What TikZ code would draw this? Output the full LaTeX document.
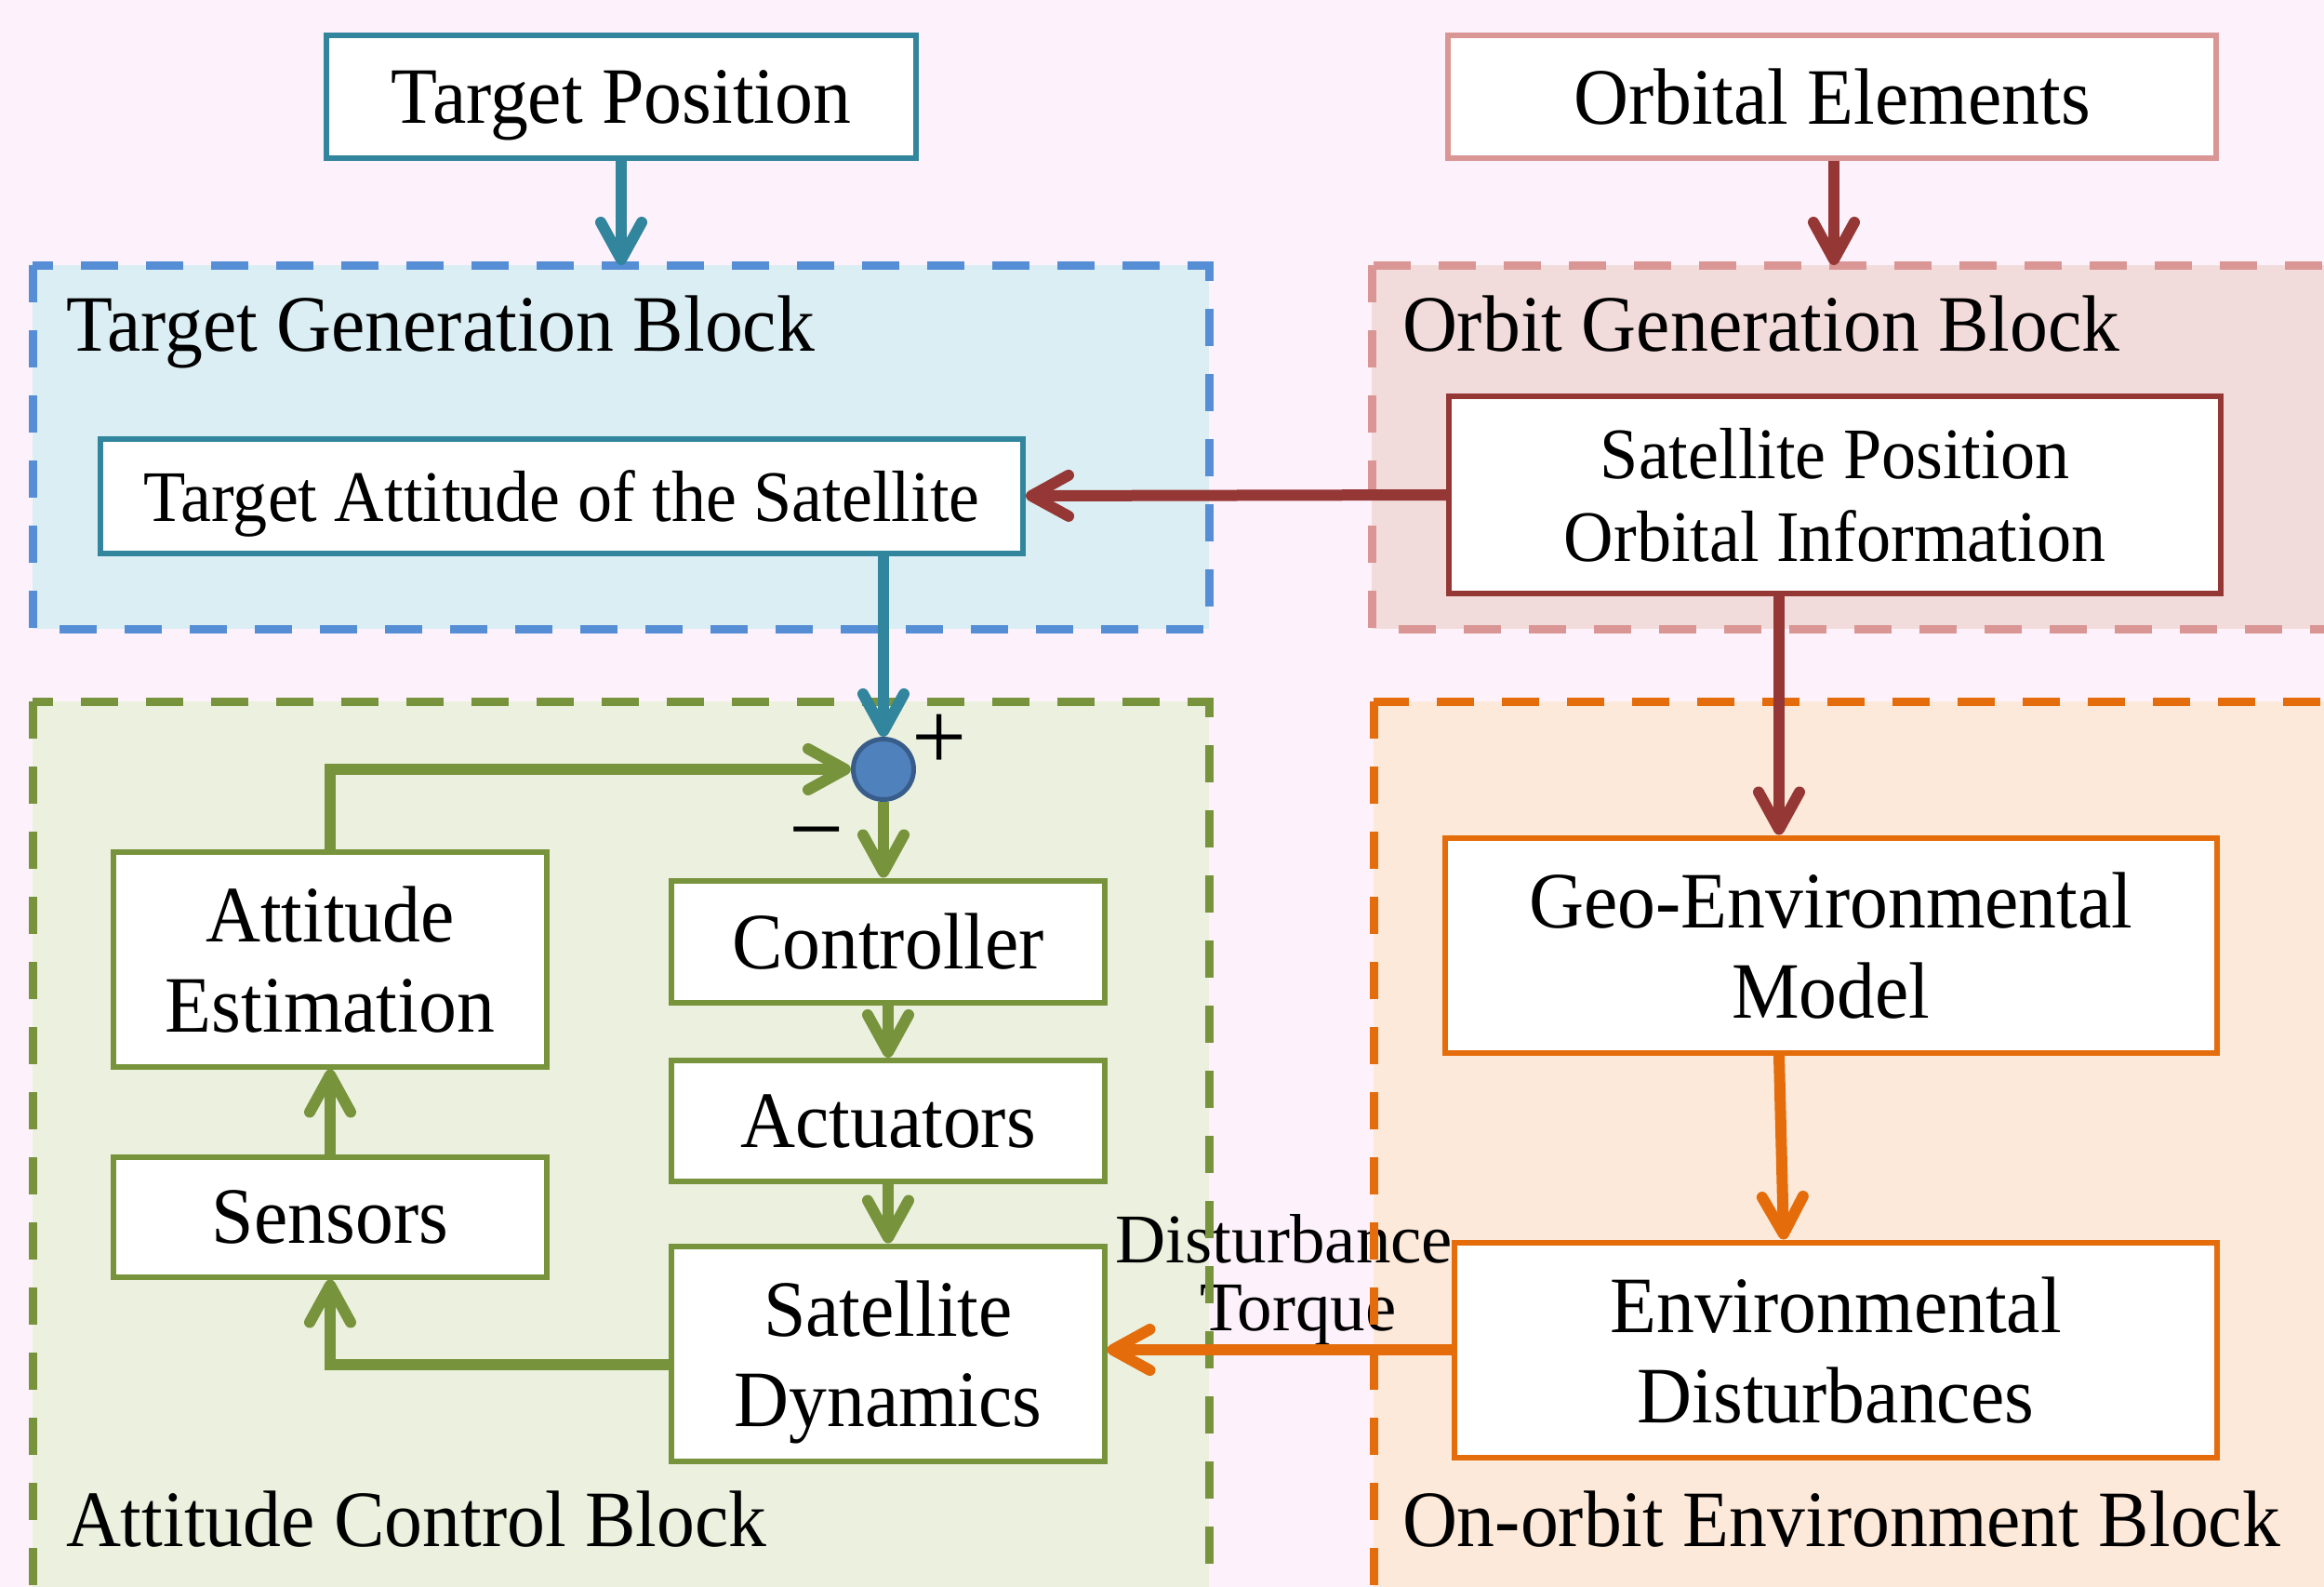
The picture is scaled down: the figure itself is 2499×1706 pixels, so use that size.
\documentclass[tikz,border=0pt]{standalone}
\usepackage{fontspec}
\setmainfont{Liberation Serif}[FakeStretch=0.95]
\newfontfamily\plainserif{Liberation Serif}
\usetikzlibrary{arrows.meta}
\definecolor{bgpink}{HTML}{FDF1FB}
\definecolor{tealc}{HTML}{31859C}
\definecolor{tgbline}{HTML}{558ED5}
\definecolor{tgbfill}{HTML}{DBEEF4}
\definecolor{pinkline}{HTML}{D99694}
\definecolor{ogbfill}{HTML}{F2DCDB}
\definecolor{darkredc}{HTML}{953735}
\definecolor{ogreen}{HTML}{77933C}
\definecolor{acbfill}{HTML}{EBF1DE}
\definecolor{oorange}{HTML}{E46C0A}
\definecolor{oebfill}{HTML}{FDE9D9}
\definecolor{sumfill}{HTML}{4F81BD}
\definecolor{sumline}{HTML}{385D8A}
\tikzset{
  boxbase/.style={draw, fill=white, line width=1.2pt, inner sep=0pt, align=center,
    text depth=0pt, font=\fontsize{17.2}{19.4}\selectfont},
  smalltext/.style={font=\fontsize{15.6}{17.8}\selectfont},
  arr/.style={line width=2.4pt, -{Straight Barb[length=8pt,width=8.8pt,round]}},
  blk/.style={line width=1.8pt, dash pattern=on 8pt off 6pt},
  blklabel/.style={anchor=base west, inner sep=0pt, font=\fontsize{17.2}{20}\selectfont},
  signlabel/.style={inner sep=0pt, font=\plainserif\fontsize{21}{21}\selectfont},
}
\begin{document}
\begin{tikzpicture}[x=0.2pt,y=-0.2pt]
\useasboundingbox (0,0) rectangle (2499,1706);
\clip (0,0) rectangle (2499,1706);
\fill[bgpink] (0,0) rectangle (2499,1706);
% block fills
\fill[tgbfill] (35,285) rectangle (1300,676);
\fill[ogbfill] (1475,285) rectangle (2540,676);
\fill[acbfill] (35,754) rectangle (1300,1740);
\fill[oebfill] (1477,754) rectangle (2540,1740);
% disturbance label (under the dashed borders, as in the reference)
\node[inner sep=0pt, align=center, font=\plainserif\fontsize{15}{14.6}\selectfont] (dlabel) at (1381,1376) {Disturbance\\\hspace*{6pt}Torque};
% block borders
\draw[blk, tgbline] (35,285) rectangle (1300,676);
\draw[blk, pinkline] (1475,285) rectangle (2540,676);
\draw[blk, ogreen] (35,754) rectangle (1300,1740);
\draw[blk, oorange] (1477,754) rectangle (2540,1740);
% block labels
\node[blklabel] (tgblabel) at (70,378) {Target Generation Block};
\node[blklabel] (ogblabel) at (1507,377) {Orbit Generation Block};
\node[blklabel] (acblabel) at (70,1662) {Attitude Control Block};
\node[blklabel] (oeblabel) at (1507,1662) {On-orbit Environment Block};
% boxes
\node[boxbase, draw=tealc, minimum width=126.8pt, minimum height=26.2pt] (tp) at (668,104) {Target Position};
\node[boxbase, draw=pinkline, minimum width=165.2pt, minimum height=26.2pt] (oe) at (1970,104) {Orbital Elements};
\node[boxbase, smalltext, draw=tealc, minimum width=198.4pt, minimum height=24.6pt] (ta) at (604,533) {Target Attitude of the Satellite};
\node[boxbase, smalltext, draw=darkredc, minimum width=165.8pt, minimum height=42.2pt] (sp) at (1973,532) {Satellite Position\\Orbital Information};
\node[boxbase, draw=ogreen, minimum width=93pt, minimum height=26.2pt] (ctrl) at (955,1012) {Controller};
\node[boxbase, draw=ogreen, minimum width=93pt, minimum height=26pt] (act) at (955,1205) {Actuators};
\node[boxbase, draw=ogreen, minimum width=93pt, minimum height=46.2pt] (sd) at (955,1455) {Satellite\\Dynamics};
\node[boxbase, draw=ogreen, minimum width=93pt, minimum height=46.2pt] (ae) at (355,1031) {Attitude\\Estimation};
\node[boxbase, draw=ogreen, minimum width=93pt, minimum height=25.8pt] (sen) at (355,1308) {Sensors};
\node[boxbase, draw=oorange, minimum width=165.8pt, minimum height=46.2pt] (geo) at (1969,1016) {Geo-Environmental\\Model};
\node[boxbase, draw=oorange, minimum width=163.8pt, minimum height=46.2pt] (ed) at (1974,1451) {Environmental\\Disturbances};
\node[circle, fill=sumfill, draw=sumline, line width=1pt, minimum size=13pt, inner sep=0pt] (sum) at (950,827) {};
\node[signlabel] (plus) at (1010,798) {+};
\node[signlabel] (minus) at (878,908) {−};
% connectors
\coordinate (tgbtop) at (668,285);
\coordinate (ogbtop) at (1972,285);
\draw[arr, tealc] (tp.south) -- (tgbtop);
\draw[arr, darkredc] (oe.south -| ogbtop) -- (ogbtop);
\draw[arr, darkredc] (sp.west) -- (ta.east);
\draw[arr, tealc] (ta.south -| sum.north) -- (sum.north);
\draw[arr, ogreen] (sum.south) -- (sum.south |- ctrl.north);
\draw[arr, ogreen] (ctrl.south) -- (act.north);
\draw[arr, ogreen] (act.south) -- (sd.north);
\draw[arr, ogreen] ([yshift=-2.4pt]sd.west) -| (sen.south);
\draw[arr, ogreen] (sen.north) -- (ae.south);
\draw[arr, ogreen] (ae.north) |- (sum.west);
\draw[arr, darkredc] ([xshift=-12pt]sp.south) -- ([xshift=-12pt]sp.south |- geo.north);
\draw[arr, oorange] ([xshift=-11.2pt]geo.south) -- ([xshift=-11.2pt]ed.north);
\draw[arr, oorange] (ed.west) -- (ed.west -| sd.east);
\end{tikzpicture}
\end{document}
